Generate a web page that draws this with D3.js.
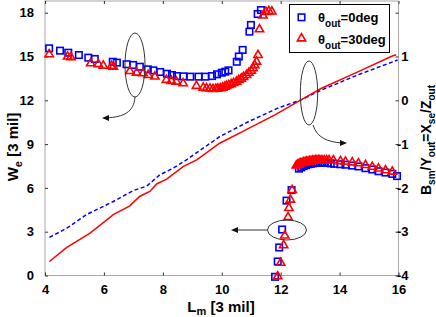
<!DOCTYPE html>
<html><head><meta charset="utf-8">
<script src="https://cdn.jsdelivr.net/npm/d3@7"></script>
<style>
body{margin:0;background:#fff;}
svg{display:block;font-family:"Liberation Sans",Arial,sans-serif;font-weight:bold;}
</style></head>
<body>
<svg id="c" width="436" height="317"></svg>
<script>
// ---- data ----
const xTicks = [4, 6, 8, 10, 12, 14, 16];
const yLeftTicks = [0, 3, 6, 9, 12, 15, 18];
const yRightTicks = [-4, -3, -2, -1, 0, 1, 2];
const yRightLabels = ["-4", "-3", "-2", "-1", "0", "1", ""];

// theta_out = 0deg, W_e branch (left axis)
const lmBlueW = [4.14,4.51,4.79,5.15,5.47,5.69,6.30,6.44,6.77,6.99,7.22,7.49,7.68,7.91,8.14,8.31,8.48,8.70,8.93,9.21,9.44,9.67,9.84,10.00,10.12,10.23,10.51,10.58,10.71,10.94,10.99,11.22,11.33];
const weBlue  = [15.56,15.40,15.26,15.10,14.92,14.83,14.64,14.58,14.47,14.42,14.30,14.12,14.05,13.94,13.82,13.73,13.66,13.64,13.62,13.62,13.62,13.66,13.78,13.89,13.96,14.05,14.64,15.00,15.45,16.70,17.16,17.91,18.18];

// theta_out = 30deg, W_e branch (left axis)
const lmRedW = [4.14,4.77,4.88,5.55,5.81,5.98,6.26,6.32,6.88,7.11,7.33,7.50,7.73,8.12,8.29,8.46,8.69,9.14,9.37,9.48,9.60,9.70,9.80,9.87,9.95,10.03,10.10,10.16,10.24,10.32,10.40,10.50,10.58,10.66,10.74,10.84,10.92,11.00,11.06,11.12,11.18,11.23,11.28,11.40,11.50,11.60,11.70];
const weRed  = [15.15,14.99,14.95,14.53,14.47,14.37,14.35,14.30,14.00,13.89,13.85,13.73,13.62,13.39,13.32,13.27,13.16,12.98,12.86,12.82,12.80,12.77,12.78,12.80,12.82,12.86,12.92,12.98,13.04,13.10,13.18,13.27,13.38,13.48,13.60,13.73,13.88,14.02,14.19,14.40,14.64,15.10,16.86,17.80,18.05,18.10,18.08];

// B_sm/Y_out branch (right axis), theta_out = 0deg
const lmBlueB = [11.81,11.90,11.95,12.05,12.20,12.37,12.62,12.70,12.78,12.86,12.94,13.02,13.10,13.18,13.26,13.34,13.42,13.50,13.60,13.70,13.82,14.03,14.20,14.43,14.64,14.88,15.11,15.32,15.56,15.79,15.95];
const bBlue   = [-4.03,-3.68,-3.36,-2.95,-2.29,-2.05,-1.56,-1.53,-1.50,-1.48,-1.46,-1.45,-1.44,-1.43,-1.43,-1.43,-1.43,-1.43,-1.43,-1.44,-1.45,-1.46,-1.47,-1.49,-1.51,-1.55,-1.58,-1.62,-1.65,-1.68,-1.73];

// B_sm/Y_out branch (right axis), theta_out = 30deg
const lmRedB = [11.90,12.00,12.10,12.14,12.25,12.28,12.33,12.39,12.53,12.58,12.63,12.68,12.73,12.78,12.83,12.88,12.93,12.98,13.03,13.08,13.13,13.18,13.23,13.28,13.33,13.40,13.48,13.56,13.64,13.79,14.03,14.20,14.43,14.64,14.88,15.11,15.32,15.56,15.79];
const bRed   = [-4.02,-3.71,-3.31,-3.09,-2.67,-2.46,-2.27,-2.05,-1.49,-1.47,-1.45,-1.44,-1.43,-1.42,-1.41,-1.40,-1.40,-1.39,-1.39,-1.38,-1.38,-1.37,-1.37,-1.37,-1.37,-1.37,-1.37,-1.37,-1.37,-1.37,-1.39,-1.40,-1.42,-1.44,-1.48,-1.52,-1.56,-1.60,-1.63];

// X_se/Z_out lines (right axis)
const lmLineRed = [4.15,4.74,5.53,6.32,6.88,7.22,7.56,7.79,8.13,8.70,9.15,9.93,10.80,11.79,12.69,13.37,14.62,15.75,15.92];
const xRed      = [-3.68,-3.36,-3.03,-2.61,-2.41,-2.19,-2.08,-1.91,-1.80,-1.51,-1.36,-0.98,-0.68,-0.34,0.01,0.27,0.65,1.00,1.04];
const lmLineBlue = [4.15,4.74,5.41,6.32,7.00,7.45,7.90,8.35,8.80,9.93,10.90,11.90,12.69,13.37,14.62,15.97];
const xBlue      = [-3.13,-2.92,-2.61,-2.31,-2.06,-1.96,-1.70,-1.55,-1.36,-0.83,-0.49,-0.18,0.01,0.23,0.58,0.92];

const legendLabels = ["=0deg", "=30deg"];

// ---- scales ----
const svg = d3.select("#c");
const L = 45, R = 398.5, B = 275.5, T = 1;
const x = d3.scaleLinear().domain([4, 16]).range([L, R]);
const yL = d3.scaleLinear().domain([0, 18]).range([B, 12.7]);
const yR = d3.scaleLinear().domain([-4, 2]).range([B, 12.7]);
const BLUE = "#0000ff", RED = "#ff0000";

// frame
svg.append("rect").attr("x", L).attr("y", T).attr("width", R - L).attr("height", B - T)
  .attr("fill", "none").attr("stroke", "#a8a8a8").attr("stroke-width", 1);

// axes
function styleAxis(g) {
  g.select(".domain").remove();
  g.selectAll(".tick line").attr("stroke", "#333");
  g.selectAll(".tick text").attr("fill", "#000").attr("font-size", 13).attr("font-weight", "bold")
    .attr("font-family", "'Liberation Sans', Arial, sans-serif");
}
svg.append("g").attr("transform", `translate(0,${B})`)
  .call(d3.axisBottom(x).tickValues(xTicks).tickSizeInner(-3).tickPadding(9.5).tickFormat(d3.format("d")))
  .call(styleAxis);
svg.append("g").attr("transform", `translate(0,${T})`)
  .call(d3.axisTop(x).tickValues(xTicks).tickSizeInner(-3).tickFormat(""))
  .call(styleAxis);
svg.append("g").attr("transform", `translate(${L},0)`)
  .call(d3.axisLeft(yL).tickValues(yLeftTicks).tickSizeInner(-3).tickPadding(11).tickFormat(d3.format("d")))
  .call(styleAxis);
const gr = svg.append("g").attr("transform", `translate(${R},0)`)
  .call(d3.axisRight(yR).tickValues(yRightTicks).tickSizeInner(-3).tickPadding(0).tickFormat((d, i) => yRightLabels[i]))
  .call(styleAxis);
gr.selectAll(".tick text").attr("text-anchor", "end").attr("x", 10);

// lines
const lineR = d3.line().x(d => x(d[0])).y(d => yR(d[1]));
svg.append("path").datum(d3.zip(lmLineBlue, xBlue)).attr("d", lineR)
  .attr("fill", "none").attr("stroke", BLUE).attr("stroke-width", 1.5).attr("stroke-dasharray", "4,2.5");
svg.append("path").datum(d3.zip(lmLineRed, xRed)).attr("d", lineR)
  .attr("fill", "none").attr("stroke", RED).attr("stroke-width", 1.5);

// markers
const sq = 6.5;
function squares(xs, ys, ys2) {
  svg.append("g").selectAll("rect").data(d3.zip(xs, ys)).join("rect")
    .attr("x", d => x(d[0]) - sq / 2).attr("y", d => ys2(d[1]) - sq / 2)
    .attr("width", sq).attr("height", sq)
    .attr("fill", "none").attr("stroke", BLUE).attr("stroke-width", 1.6);
}
const tri = d3.symbol().type(d3.symbolTriangle).size(30);
function triangles(xs, ys, ys2) {
  svg.append("g").selectAll("path").data(d3.zip(xs, ys)).join("path")
    .attr("d", tri).attr("transform", d => `translate(${x(d[0])},${ys2(d[1])})`)
    .attr("fill", "none").attr("stroke", RED).attr("stroke-width", 1.6);
}
squares(lmBlueW, weBlue, yL);
squares(lmBlueB, bBlue, yR);
triangles(lmRedW, weRed, yL);
triangles(lmRedB, bRed, yR);

// annotations
const ann = svg.append("g").attr("fill", "none").attr("stroke", "#333").attr("stroke-width", 1);
ann.append("ellipse").attr("cx", 135).attr("cy", 65).attr("rx", 10).attr("ry", 32);
ann.append("path").attr("d", "M135,97 C134,112 124,117 106,118");
ann.append("ellipse").attr("cx", 309).attr("cy", 93).attr("rx", 8.7).attr("ry", 32);
ann.append("path").attr("d", "M313,125 C317,138 328,142 342,143");
ann.append("ellipse").attr("cx", 287).attr("cy", 230).attr("rx", 19.5).attr("ry", 10);
ann.append("path").attr("d", "M267.5,230 L235,230");
const ah = svg.append("g").attr("fill", "#111");
ah.append("path").attr("d", "M102,118 L109,115 L109,121 Z");
ah.append("path").attr("d", "M347,143 L340,140 L340,146 Z");
ah.append("path").attr("d", "M231,230 L238,227 L238,233 Z");

// legend
const lg = svg.append("g");
lg.append("rect").attr("x", 289.5).attr("y", 4.5).attr("width", 100).attr("height", 48)
  .attr("fill", "#fff").attr("stroke", "#000").attr("stroke-width", 1);
lg.append("rect").attr("x", 301.5 - sq / 2).attr("y", 17.3 - sq / 2).attr("width", sq).attr("height", sq)
  .attr("fill", "none").attr("stroke", BLUE).attr("stroke-width", 1.6);
lg.append("path").attr("d", tri).attr("transform", "translate(301.5,38.5)")
  .attr("fill", "none").attr("stroke", RED).attr("stroke-width", 1.6);
legendLabels.forEach((lab, i) => {
  const t = lg.append("text").attr("x", 318).attr("y", 22 + i * 21.5).attr("font-size", 13).attr("fill", "#000");
  t.append("tspan").text("θ");
  t.append("tspan").attr("font-size", 10).attr("dy", 5).text("out");
  t.append("tspan").attr("dy", -5).text(lab);
});

// axis titles
const xt = svg.append("text").attr("x", 221).attr("y", 311.5).attr("text-anchor", "middle").attr("font-size", 15);
xt.append("tspan").text("L");
xt.append("tspan").attr("font-size", 11).attr("dy", 3).text("m");
xt.append("tspan").attr("dy", -3).text(" [3 mil]");

const ylt = svg.append("text").attr("transform", "translate(18,147) rotate(-90)").attr("text-anchor", "middle").attr("font-size", 15);
ylt.append("tspan").text("W");
ylt.append("tspan").attr("font-size", 11).attr("dy", 3.5).text("e");
ylt.append("tspan").attr("dy", -3.5).text(" [3 mil]");

const yrt = svg.append("text").attr("transform", "translate(431,140) rotate(-90)").attr("text-anchor", "middle").attr("font-size", 14);
yrt.append("tspan").text("B");
yrt.append("tspan").attr("font-size", 10).attr("dy", 3.5).text("sm");
yrt.append("tspan").attr("dy", -3.5).text("/Y");
yrt.append("tspan").attr("font-size", 10).attr("dy", 3.5).text("out");
yrt.append("tspan").attr("dy", -3.5).text("=X");
yrt.append("tspan").attr("font-size", 10).attr("dy", 3.5).text("se");
yrt.append("tspan").attr("dy", -3.5).text("/Z");
yrt.append("tspan").attr("font-size", 10).attr("dy", 3.5).text("out");
</script>
</body></html>
